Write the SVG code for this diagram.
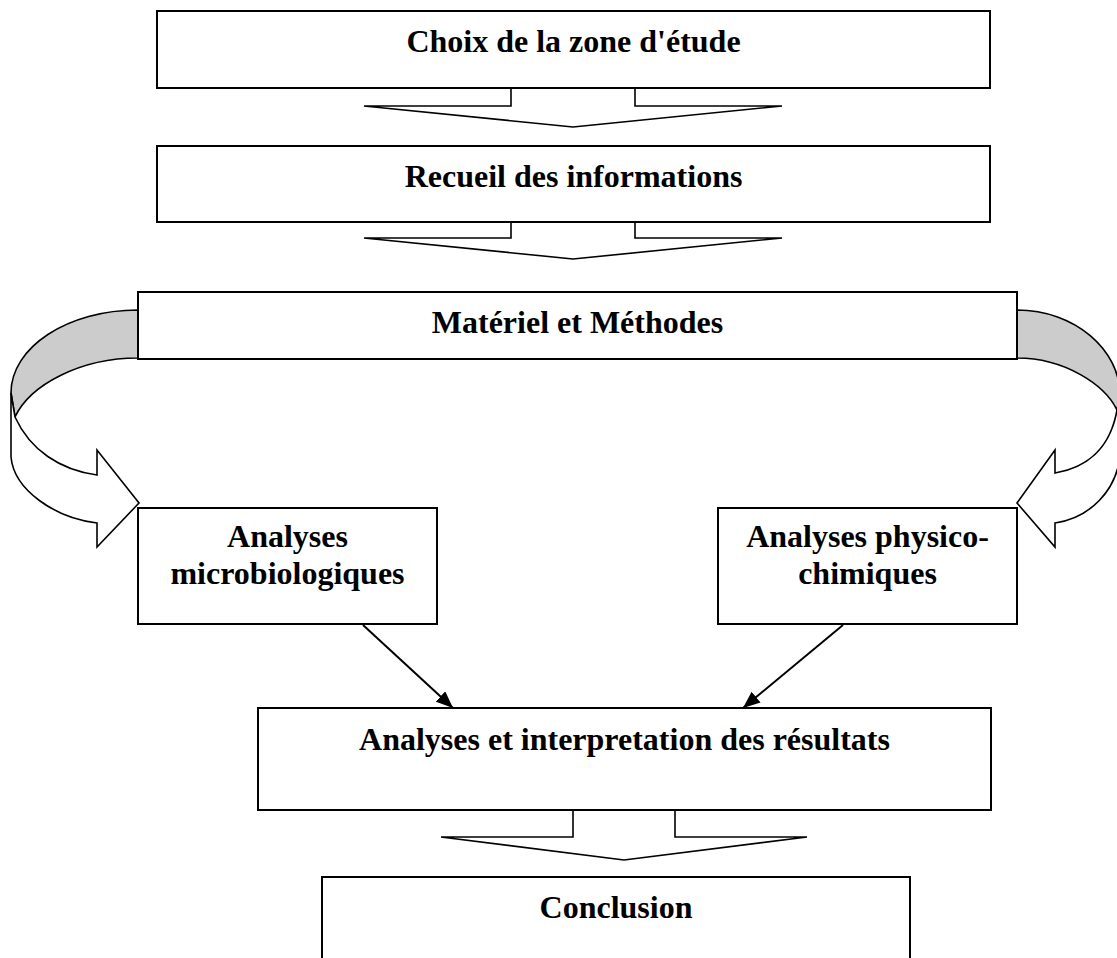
<svg xmlns="http://www.w3.org/2000/svg" width="1117" height="958" viewBox="0 0 1117 958">
<style>
.box{fill:#fff;stroke:#000;stroke-width:2}
.lbl{font-family:"Liberation Serif","Times New Roman",serif;font-weight:bold;font-size:32px;fill:#000;text-anchor:middle}
.blk{fill:#fff;stroke:#000;stroke-width:1.6;stroke-linejoin:miter}
.band{fill:#cccccc;stroke:#000;stroke-width:1.6}
.ln{stroke:#000;stroke-width:2;fill:none}
</style>
<defs>
<marker id="ah" markerUnits="userSpaceOnUse" markerWidth="18" markerHeight="14" refX="17" refY="7" orient="auto">
<path d="M0,0 L17,7 L0,14 Z" fill="#000"/>
</marker>
</defs>
<rect width="1117" height="958" fill="#fff"/>
<g id="connectors">
<path class="band" d="M138,310 C68,310 11,347 11,393 L15,417 C30,385 80,358 138,358 Z"/>
<path class="blk" d="M11,393 L11,457 C14,490 55,518 97,523 L97,547 L139,503 L97,450 L97,475 C60,470 30,450 15,417 Z"/>
<path class="band" d="M1017,310 C1075,310 1120,350 1120,395 L1117,410 C1105,385 1065,358 1017,358 Z"/>
<path class="blk" d="M1120,395 L1120,455 C1117,490 1090,518 1055,523 L1055,547 L1017,503 L1055,450 L1055,473 C1085,468 1110,450 1117,410 Z"/>
</g>
<g id="n1"><rect class="box" x="157" y="11" width="833" height="77"/><text class="lbl" x="573.5" y="52">Choix de la zone d'étude</text></g>
<g id="n2"><rect class="box" x="157" y="146" width="833" height="76"/><text class="lbl" x="573.5" y="187">Recueil des informations</text></g>
<g id="n3"><rect class="box" x="138" y="292" width="879" height="67"/><text class="lbl" x="577.5" y="333">Matériel et Méthodes</text></g>
<g id="n4"><rect class="box" x="138" y="508" width="299" height="116"/><text class="lbl" x="287.5" y="547">Analyses</text><text class="lbl" x="287.5" y="584">microbiologiques</text></g>
<g id="n5"><rect class="box" x="718" y="508" width="299" height="116"/><text class="lbl" x="867.5" y="547">Analyses physico-</text><text class="lbl" x="867.5" y="584">chimiques</text></g>
<g id="n6"><rect class="box" x="258" y="708" width="733" height="102"/><text class="lbl" x="624.5" y="750">Analyses et interpretation des résultats</text></g>
<g id="n7"><rect class="box" x="322" y="877" width="588" height="100"/><text class="lbl" x="616" y="918">Conclusion</text></g>
<g id="arrows">
<path class="blk" d="M511,89 L511,106 L364,106 L573,127 L782,106 L635,106 L635,89"/>
<path class="blk" d="M511,223 L511,238 L364,238 L573,259 L782,238 L635,238 L635,223"/>
<path class="blk" d="M573,811 L573,837 L441,837 L624,860 L807,837 L675,837 L675,811"/>
<line class="ln" x1="363" y1="625" x2="453" y2="708" marker-end="url(#ah)"/>
<line class="ln" x1="843" y1="625" x2="743" y2="708" marker-end="url(#ah)"/>
</g>
</svg>
